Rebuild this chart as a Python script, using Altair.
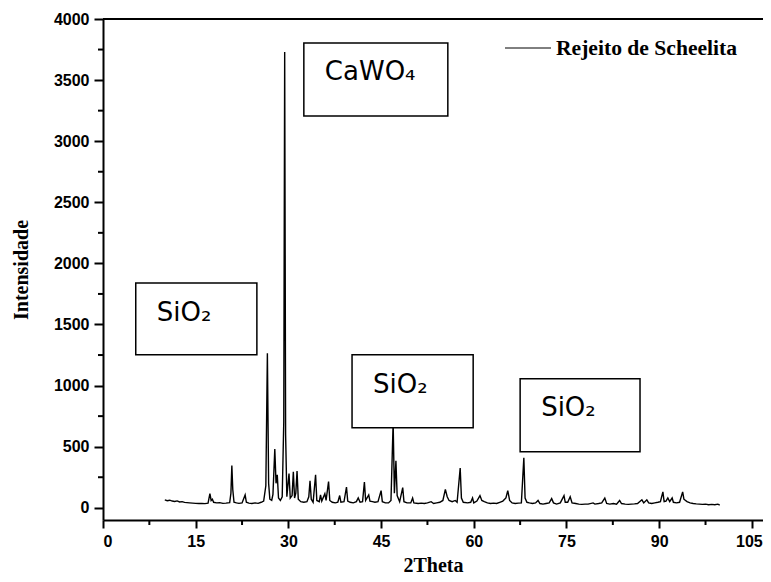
import altair as alt
import pandas as pd

# ---- XRD pattern ----
two_theta = [10.0, 10.4, 10.8, 11.2, 11.6, 12.0, 12.4, 12.8, 13.2, 13.6, 14.0, 14.5, 15.0, 15.5, 16.0, 16.5,
             17.0, 17.3, 17.5, 17.7, 17.9, 18.4, 18.9, 19.4, 19.9, 20.5, 20.7, 20.85, 21.0, 21.2, 21.6, 22.0,
             22.5, 23.0, 23.2, 23.6, 24.1, 24.6, 25.1, 25.6, 26.0, 26.35, 26.6, 26.8, 27.0, 27.3, 27.5, 27.8,
             28.0, 28.2, 28.4, 28.7, 29.0, 29.25, 29.4, 29.55, 29.75, 30.1, 30.3, 30.6, 30.8, 31.0, 31.2, 31.4,
             31.6, 32.0, 32.5, 33.0, 33.3, 33.5, 33.7, 34.0, 34.4, 34.6, 35.0, 35.2, 35.4, 35.9, 36.1, 36.5,
             36.7, 37.1, 37.6, 38.0, 38.3, 38.5, 39.0, 39.4, 39.6, 40.0, 40.5, 41.0, 41.3, 41.6, 42.0, 42.3,
             42.5, 43.0, 43.2, 43.6, 44.0, 44.5, 45.0, 45.2, 45.7, 46.2, 46.6, 46.95, 47.15, 47.4, 47.6, 48.0,
             48.5, 48.7, 49.2, 49.8, 50.1, 50.3, 51.0, 51.5, 52.0, 52.5, 53.1, 53.5, 54.0, 54.5, 55.0, 55.4,
             55.7, 56.0, 56.5, 57.0, 57.3, 57.8, 58.0, 58.3, 59.0, 59.5, 59.8, 60.0, 60.5, 61.0, 61.3, 61.7,
             62.2, 62.7, 63.2, 63.7, 64.2, 64.7, 65.2, 65.5, 65.8, 66.2, 66.7, 67.2, 67.7, 68.1, 68.3, 68.6,
             69.0, 69.5, 70.0, 70.4, 70.7, 71.2, 71.7, 72.2, 72.6, 72.9, 73.4, 74.0, 74.6, 74.8, 75.2, 75.6,
             75.9, 76.5, 77.0, 77.5, 78.0, 78.5, 79.3, 79.6, 80.2, 80.7, 81.2, 81.5, 82.0, 82.6, 83.1, 83.6,
             83.9, 84.5, 85.0, 85.5, 86.0, 86.5, 87.2, 87.5, 88.0, 88.3, 88.8, 89.3, 89.8, 90.2, 90.6, 90.8,
             91.1, 91.4, 91.7, 92.1, 92.3, 92.8, 93.3, 93.8, 94.0, 94.5, 95.0, 95.5, 96.0, 96.5, 97.0, 97.5,
             98.0, 98.5, 99.0, 99.5, 99.8]
intensity = [65, 58, 62, 55, 52, 56, 48, 50, 44, 42, 40, 38, 36, 35, 36, 34,
             38, 115, 60, 70, 45, 40, 42, 36, 38, 42, 120, 345, 150, 45, 40, 36,
             40, 105, 45, 38, 35, 40, 36, 45, 55, 180, 1265, 200, 70, 60, 110, 480,
             200, 270, 80, 60, 90, 700, 3730, 600, 90, 280, 80, 100, 295, 80, 120, 300,
             70, 50, 45, 50, 90, 220, 70, 45, 270, 60, 50, 105, 55, 115, 60, 215,
             60, 45, 40, 45, 100, 45, 50, 170, 55, 45, 40, 50, 80, 45, 50, 210,
             60, 105, 55, 50, 45, 50, 140, 50, 40, 40, 60, 700, 120, 385, 100, 50,
             165, 50, 40, 40, 80, 40, 35, 38, 35, 40, 50, 35, 40, 45, 60, 150,
             90, 60, 50, 60, 45, 325, 80, 45, 40, 45, 80, 40, 55, 100, 60, 50,
             40, 35, 38, 35, 45, 55, 80, 140, 60, 40, 35, 38, 40, 410, 80, 45,
             40, 35, 40, 60, 35, 30, 35, 40, 75, 40, 30, 40, 100, 45, 45, 90,
             40, 35, 30, 28, 30, 30, 40, 30, 35, 40, 80, 35, 30, 35, 30, 60,
             35, 30, 28, 30, 32, 35, 65, 40, 65, 40, 35, 40, 45, 50, 130, 50,
             55, 80, 50, 80, 45, 40, 45, 130, 70, 50, 40, 35, 32, 30, 28, 30,
             25, 28, 25, 30, 22]

series_name = "Rejeito de Scheelita"

# ---- annotation boxes (data coordinates) ----
box_label = ["CaWO₄", "SiO₂", "SiO₂", "SiO₂"]
box_x1 = [32.5, 5.3, 40.3, 67.5]
box_x2 = [55.8, 24.9, 59.9, 86.9]
box_y1 = [3207, 1252, 654, 458]
box_y2 = [3804, 1840, 1252, 1055]
label_x = [35.9, 8.7, 43.7, 70.9]
label_y = [3566, 1595, 1006, 818]

# ---- ticks ----
x_major = [0, 15, 30, 45, 60, 75, 90, 105]
x_minor = [7.5, 22.5, 37.5, 52.5, 67.5, 82.5, 97.5]
y_major = [0, 500, 1000, 1500, 2000, 2500, 3000, 3500, 4000]
y_minor = [250, 750, 1250, 1750, 2250, 2750, 3250, 3750]

W = 660
H = 501

xs = alt.Scale(domain=[0, 106.8], nice=False, zero=False)
ys = alt.Scale(domain=[-100, 4000], nice=False, zero=False)
xaxis = alt.Axis(values=x_major, format="d", tickSize=8, labelPadding=5, titlePadding=6,
                 labelOffset={"condition": {"test": "datum.value == 105", "value": -3}, "value": 0})
yaxis = alt.Axis(values=y_major, format="d", tickSize=9, labelPadding=5, titlePadding=22)


def X(field):
    return alt.X(field, scale=xs, title="2Theta", axis=xaxis)


def Y(field):
    return alt.Y(field, scale=ys, title="Intensidade", axis=yaxis)


df = pd.DataFrame({"x": two_theta, "y": intensity})
boxes = pd.DataFrame({"label": box_label, "x1": box_x1, "x2": box_x2, "y1": box_y1, "y2": box_y2,
                      "lx": label_x, "ly": label_y})
one = pd.DataFrame({"name": [series_name]})

line = alt.Chart(df).mark_line(color="black", strokeWidth=1.4).encode(
    x=X("x:Q"), y=Y("y:Q"))

xminor = alt.Chart(pd.DataFrame({"v": x_minor})).mark_rule(color="black", strokeWidth=2).encode(
    x=X("v:Q"), y=alt.value(H), y2=alt.value(H + 5))
yminor = alt.Chart(pd.DataFrame({"v": y_minor})).mark_rule(color="black", strokeWidth=2).encode(
    y=Y("v:Q"), x=alt.value(-5), x2=alt.value(0))

topline = alt.Chart(one).mark_rule(color="black", strokeWidth=2).encode(
    x=alt.value(0), x2=alt.value(W), y=alt.value(0))

rects = alt.Chart(boxes).mark_rect(fill="white", stroke="black", strokeWidth=1.5).encode(
    x=X("x1:Q"), x2="x2:Q", y=Y("y1:Q"), y2="y2:Q")
texts = alt.Chart(boxes).mark_text(align="left", baseline="middle", font="DejaVu Sans",
                                   fontSize=26, color="black").encode(
    x=X("lx:Q"), y=Y("ly:Q"), text="label:N")

leg_line = alt.Chart(one).mark_rule(color="black", strokeWidth=1).encode(
    x=alt.value(402), x2=alt.value(448), y=alt.value(29))
leg_text = alt.Chart(one).mark_text(align="left", baseline="middle", font="Liberation Serif",
                                    fontWeight="bold", fontSize=21.6, color="black").encode(
    x=alt.value(453), y=alt.value(30), text="name:N")

chart = alt.layer(line, xminor, yminor, topline, rects, texts, leg_line, leg_text).properties(
    width=W, height=H,
    autosize=alt.AutoSizeParams(type="none"),
    padding={"left": 95, "top": 11, "right": 0, "bottom": 54},
).configure_view(stroke=None).configure_axis(
    grid=False, domainColor="black", domainWidth=2, tickColor="black", tickWidth=2,
    labelFont="Liberation Sans", labelFontWeight="bold", labelFontSize=16, labelColor="black",
    titleFont="Liberation Serif", titleFontWeight="bold", titleFontSize=20, titleColor="black",
)

chart.save("out.html", embed_options={"renderer": "svg", "actions": False})
